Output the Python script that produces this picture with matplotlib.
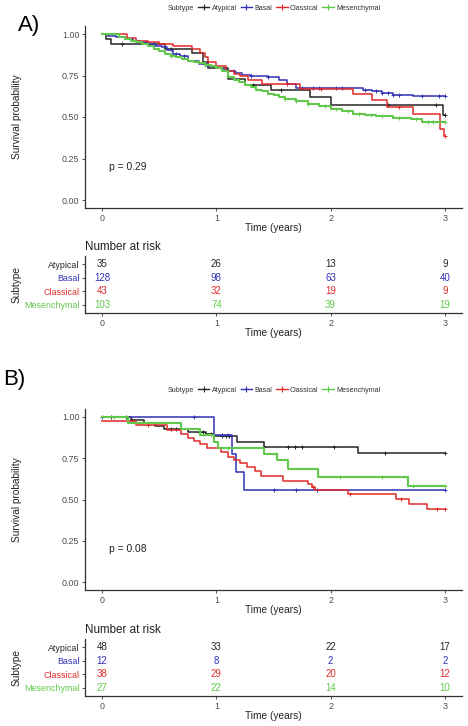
import numpy as np
import matplotlib
matplotlib.use('Agg')
import matplotlib.pyplot as plt
from matplotlib.lines import Line2D

plt.rcParams['font.family'] = ['Liberation Sans', 'DejaVu Sans']

### DATA ###
groups = ['Atypical', 'Basal', 'Classical', 'Mesenchymal']
colors = ['#262626', '#3232b4', '#e02a2a', '#62c84c']
risk_times = [0, 1, 2, 3]

# Panel A - step change points (time, survival) and censor times
atyp_a_t = [0, 0.035, 0.08, 0.55, 0.79, 0.88, 0.93, 1.1, 1.25, 1.48, 1.82, 2.0, 2.98]
atyp_a_s = [1.0, 0.97, 0.94, 0.91, 0.885, 0.83, 0.795, 0.73, 0.69, 0.66, 0.62, 0.575, 0.51]
atyp_a_c = [0.17, 0.6, 1.32, 1.57, 2.5, 2.92, 3.0]

bas_a_t = [0, 0.05, 0.12, 0.2, 0.27, 0.33, 0.4, 0.46, 0.52, 0.57, 0.62, 0.68, 0.75, 0.85,
           0.92, 1.0, 1.05, 1.1, 1.16, 1.22, 1.3, 1.45, 1.55, 1.62, 1.7, 2.28, 2.36, 2.45,
           2.55, 2.72]
bas_a_s = [1.0, 0.99, 0.98, 0.97, 0.96, 0.95, 0.94, 0.93, 0.92, 0.905, 0.88, 0.865, 0.84, 0.82,
           0.805, 0.795, 0.785, 0.775, 0.765, 0.755, 0.75, 0.74, 0.725, 0.7, 0.675, 0.665, 0.655,
           0.645, 0.635, 0.625]
bas_a_c = [0.3, 0.38, 0.45, 0.65, 0.72, 1.15, 1.3, 1.45, 1.75, 1.85, 1.9, 2.05, 2.1, 2.3, 2.4,
           2.45, 2.5, 2.55, 2.6, 2.8, 2.95, 3.0]

cla_a_t = [0, 0.22, 0.3, 0.4, 0.5, 0.62, 0.79, 0.86, 0.9, 0.93, 1.0, 1.08, 1.15, 1.21, 1.28,
           1.4, 1.73, 2.2, 2.36, 2.49, 2.72, 2.955, 2.99]
cla_a_s = [1.0, 0.975, 0.96, 0.95, 0.94, 0.925, 0.91, 0.885, 0.86, 0.83, 0.81, 0.775, 0.76,
           0.745, 0.72, 0.70, 0.67, 0.64, 0.60, 0.56, 0.52, 0.43, 0.385]
cla_a_c = [1.62, 1.92, 2.6, 3.0]

mes_a_t = [0, 0.15, 0.2, 0.25, 0.3, 0.35, 0.4, 0.45, 0.5, 0.55, 0.6, 0.65, 0.7, 0.75, 0.8,
           0.85, 0.9, 0.95, 1.0, 1.05, 1.1, 1.15, 1.2, 1.25, 1.3, 1.35, 1.4, 1.45, 1.5, 1.55,
           1.6, 1.7, 1.8, 1.9, 2.0, 2.1, 2.2, 2.3, 2.4, 2.55, 2.7, 2.8]
mes_a_s = [1.0, 0.98, 0.97, 0.96, 0.95, 0.94, 0.925, 0.91, 0.895, 0.88, 0.87, 0.86, 0.85,
           0.84, 0.83, 0.825, 0.815, 0.81, 0.795, 0.78, 0.74, 0.725, 0.71, 0.695, 0.68, 0.665,
           0.655, 0.64, 0.63, 0.62, 0.61, 0.595, 0.58, 0.565, 0.55, 0.535, 0.52, 0.51, 0.505,
           0.495, 0.485, 0.47]
mes_a_c = [0.6, 0.9, 1.6, 1.7, 1.8, 1.95, 2.05, 2.15, 2.25, 2.35, 2.45, 2.6, 2.75, 2.85, 2.9,
           2.95, 3.0]

risk_a = [[35, 26, 13, 9], [128, 98, 63, 40], [43, 32, 19, 9], [103, 74, 39, 19]]
pval_a = 'p = 0.29'

# Panel B
atyp_b_t = [0, 0.25, 0.37, 0.46, 0.54, 0.75, 0.91, 0.98, 1.18, 1.42, 2.24]
atyp_b_s = [1.0, 0.98, 0.965, 0.945, 0.93, 0.91, 0.895, 0.885, 0.85, 0.82, 0.78]
atyp_b_c = [0.08, 0.21, 0.26, 0.6, 0.65, 0.85, 0.88, 0.95, 1.05, 1.08, 1.11, 1.42, 1.63,
            1.69, 1.75, 2.03, 2.48, 3.0]

bas_b_t = [0, 0.98, 1.14, 1.17, 1.24]
bas_b_s = [1.0, 0.889, 0.778, 0.667, 0.556]
bas_b_c = [0.0, 0.8, 1.05, 1.1, 1.5, 1.7, 1.88, 3.0]

cla_b_t = [0, 0.3, 0.57, 0.69, 0.75, 0.8, 0.86, 0.92, 1.04, 1.1, 1.15, 1.21, 1.27, 1.34,
           1.39, 1.58, 1.8, 1.84, 1.86, 2.15, 2.57, 2.69, 2.84]
cla_b_s = [0.974, 0.95, 0.92, 0.895, 0.87, 0.855, 0.835, 0.81, 0.79, 0.76, 0.74, 0.72, 0.70,
           0.67, 0.644, 0.614, 0.594, 0.575, 0.556, 0.533, 0.503, 0.473, 0.442]
cla_b_c = [0.4, 1.85, 2.17, 2.62, 2.93, 3.0]

mes_b_t = [0, 0.23, 0.69, 0.86, 0.98, 1.01, 1.42, 1.53, 1.63, 1.89, 2.68]
mes_b_s = [1.0, 0.963, 0.93, 0.89, 0.85, 0.815, 0.775, 0.74, 0.685, 0.635, 0.58]
mes_b_c = [0.1, 1.1, 1.52, 2.08, 2.45, 2.72, 3.0]

risk_b = [[48, 33, 22, 17], [12, 8, 2, 2], [38, 29, 20, 12], [27, 22, 14, 10]]
pval_b = 'p = 0.08'

curves_a = [(atyp_a_t, atyp_a_s, atyp_a_c), (bas_a_t, bas_a_s, bas_a_c),
            (cla_a_t, cla_a_s, cla_a_c), (mes_a_t, mes_a_s, mes_a_c)]
curves_b = [(atyp_b_t, atyp_b_s, atyp_b_c), (bas_b_t, bas_b_s, bas_b_c),
            (cla_b_t, cla_b_s, cla_b_c), (mes_b_t, mes_b_s, mes_b_c)]

### LAYOUT (pixels of a 468x726 figure) ###
W, H = 468, 726
fig = plt.figure(figsize=(W / 100, H / 100), dpi=100)


def px_axes(left, top, right, bottom):
    return fig.add_axes([left / W, 1 - bottom / H, (right - left) / W, (bottom - top) / H])


axis_col = '#333333'
tick_col = '#4d4d4d'
text_col = '#222222'


def style_axes(ax):
    for edge in ['top', 'right']:
        ax.spines[edge].set_visible(False)
    for edge in ['left', 'bottom']:
        ax.spines[edge].set_color(axis_col)
        ax.spines[edge].set_linewidth(0.9)
    ax.tick_params(length=2.5, width=0.6, color=axis_col, labelcolor=tick_col,
                   labelsize=6.4, pad=1.5)
    ax.set_xlim(-0.15, 3.15)
    ax.set_xticks(risk_times)


def surv_plot(ax, curves, pval):
    for (t, s, c), col in zip(curves, colors):
        tt = np.append(t, 3.0)
        ss = np.append(s, s[-1])
        lw = 1.5 if col == colors[3] else 1.1
        ax.step(tt, ss, where='post', color=col, lw=lw)
        idx = np.searchsorted(t, c, side='right') - 1
        ax.plot(c, np.array(s)[idx], ls='none', marker='+', ms=3.5, mew=0.7, color=col)
    style_axes(ax)
    ax.set_ylim(-0.05, 1.05)
    ax.set_yticks([0, 0.25, 0.5, 0.75, 1.0])
    ax.set_yticklabels(['0.00', '0.25', '0.50', '0.75', '1.00'])
    ax.text(0.06, 0.2, pval, fontsize=7.4, color=text_col, va='center', ha='left')
    ax.set_ylabel('Survival probability', fontsize=7.3, color=text_col)
    ax.set_xlabel('Time (years)', fontsize=7.3, color=text_col)
    ax.yaxis.set_label_coords(-0.168, 0.5)
    ax.xaxis.set_label_coords(0.5, -0.083)


def risk_plot(ax, risk):
    ypos = [4, 3, 2, 1]
    for row, y, col in zip(risk, ypos, colors):
        for tm, n in zip(risk_times, row):
            ax.text(tm, y, str(n), color=col, fontsize=7, ha='center', va='center')
    style_axes(ax)
    ax.set_ylim(0.4, 4.6)
    ax.set_yticks(ypos)
    ax.set_yticklabels(groups)
    for lab, col in zip(ax.get_yticklabels(), colors):
        lab.set_color(col)
    ax.set_ylabel('Subtype', fontsize=7.3, color=text_col)
    ax.set_xlabel('Time (years)', fontsize=7.3, color=text_col)
    ax.yaxis.set_label_coords(-0.168, 0.5)
    ax.xaxis.set_label_coords(0.5, -0.265)
    ax.text(0, 1.16, 'Number at risk', transform=ax.transAxes, fontsize=8.4,
            color=text_col, va='center', ha='left')


def add_legend(y_px):
    handles = [Line2D([], [], ls='none', label='Subtype')]
    for g, col in zip(groups, colors):
        handles.append(Line2D([], [], color=col, lw=1.0, marker='+', ms=4, mew=0.8, label=g))
    fig.legend(handles=handles, loc='center', bbox_to_anchor=(267 / W, 1 - y_px / H),
               ncol=5, frameon=False, fontsize=5.1, handlelength=1.6, handletextpad=0.3,
               columnspacing=0.6, labelcolor='#333333')


### PANEL A ###
ax_a = px_axes(85, 25.7, 462, 208.3)
surv_plot(ax_a, curves_a, pval_a)
ax_ra = px_axes(85, 256, 462, 313)
risk_plot(ax_ra, risk_a)
add_legend(8)
fig.text(18 / W, 1 - 25 / H, 'A)', fontsize=16, va='center', ha='left')

### PANEL B ###
ax_b = px_axes(85, 408.75, 462, 590.25)
surv_plot(ax_b, curves_b, pval_b)
ax_rb = px_axes(85, 639, 462, 696)
risk_plot(ax_rb, risk_b)
add_legend(390)
fig.text(3 / W, 1 - 379 / H, 'B)', fontsize=16, va='center', ha='left')

fig.savefig('out.png', dpi=100)
plt.close(fig)
